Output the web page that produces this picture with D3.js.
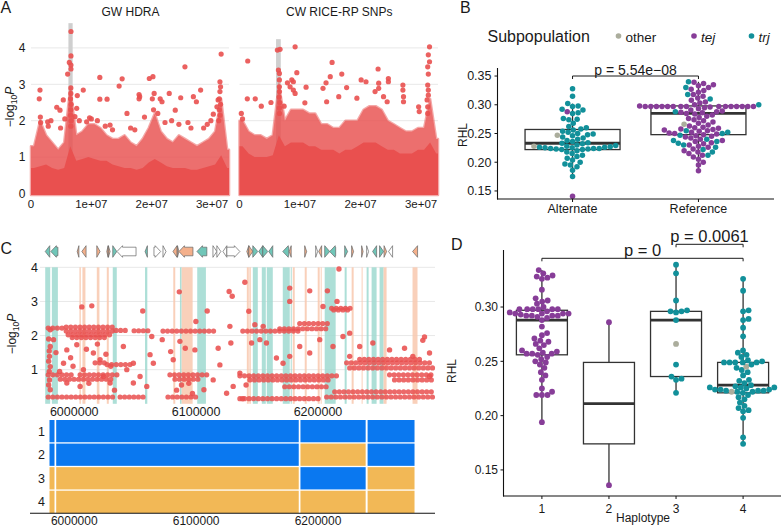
<!DOCTYPE html>
<html lang="en">
<head>
<meta charset="UTF-8">
<title>RHL association figure</title>
<script src="https://d3js.org/d3.v7.min.js"></script>
<style>
  body { margin: 0; background: #fff; }
  svg { display: block; font-family: "Liberation Sans", Arial, Helvetica, sans-serif; }
</style>
</head>
<body>
<svg id="fig" width="781" height="527" viewBox="0 0 781 527"></svg>
<script>
// ---------- data: panel A (Manhattan, 1 Mb bins) ----------
const binStartMb = [0,1,2,3,4,5,6,7,8,9,10,11,12,13,14,15,16,17,18,19,20,21,22,23,24,25,26,27,28,29,30,31,32];
const hdraCore = [0.7,0.75,0.8,0.7,0.65,0.7,1.3,0.9,0.95,1.0,0.95,0.9,0.9,0.8,0.75,0.7,0.7,0.65,0.7,0.85,0.95,0.85,0.75,0.7,0.7,0.7,0.65,0.65,0.7,0.75,0.8,1.05,0.7];
const hdraSemi = [1.3,2.0,1.6,1.4,1.2,1.4,2.9,1.6,1.7,1.9,1.9,1.8,1.6,1.5,1.5,1.6,1.4,1.3,1.5,1.8,2.2,1.7,1.5,1.4,1.6,1.5,1.4,1.3,1.4,1.5,1.7,2.6,1.2];
const rpCore = [1.3,1.1,1.0,1.0,1.0,1.05,1.6,1.3,1.4,1.4,1.4,1.3,1.3,1.2,1.2,1.2,1.1,1.2,1.2,1.3,1.4,1.4,1.4,1.3,1.2,1.2,1.1,1.1,1.1,1.2,1.2,1.4,1.1];
const rpSemi = [2.0,1.7,1.6,1.6,1.5,1.6,3.0,2.0,2.3,2.3,2.3,2.2,2.2,1.9,1.9,1.8,1.8,2.0,2.0,2.0,2.3,2.4,2.4,2.3,2.0,1.9,1.8,1.7,1.7,1.8,1.8,2.6,1.5];
const hdraPoints = [
  [6.62e6,4.45],[6.62e6,3.78],[6.35e6,3.60],[6.62e6,3.53],[6.07e6,3.28],[6.62e6,3.42],[1.49e6,2.84],[1.37e6,2.60],
  [7.67e6,2.69],[8.66e6,2.84],[1.14e7,3.19],[1.14e7,2.59],[1.26e7,2.59],[1.51e7,3.15],[1.46e7,2.95],[1.59e7,2.20],
  [5.35e6,2.57],[4.27e6,2.37],[4.80e6,2.29],[2.76e6,1.97],[2.86e6,1.85],[1.79e7,2.72],[1.80e7,2.66],[1.79e7,2.60],
  [1.96e7,3.16],[2.02e7,3.21],[2.04e7,2.75],[2.01e7,2.60],[2.14e7,2.60],[2.17e7,2.52],[2.29e7,2.75],[2.39e7,2.29],
  [2.48e7,2.63],[2.55e7,3.48],[2.69e7,2.66],[2.74e7,2.52],[2.81e7,2.84],[3.02e7,2.18],[3.15e7,3.83],[3.13e7,3.07],
  [3.14e7,2.93],[3.13e7,2.80],[3.10e7,2.57],[3.08e7,2.38],[7.57e6,2.34],[7.28e6,2.11],[9.22e6,1.97],[1.31e7,1.88],
  [3.3e6,2.0],[4.9e6,1.8],[1.0e7,2.05],[1.1e7,2.0],[1.23e7,1.85],[1.35e7,1.75],[1.65e7,1.8],[1.72e7,1.75],
  [1.88e7,2.1],[2.1e7,2.2],[2.22e7,1.95],[2.33e7,2.0],[2.45e7,1.9],[2.6e7,1.95],[2.65e7,1.8],[2.86e7,1.8],
  [2.92e7,1.9],[2.98e7,2.0],[5.6e6,2.05],[8.0e6,2.0],[9.7e6,2.08],
  [6.6e6,2.9],[6.6e6,2.75],[6.55e6,2.6],[6.65e6,2.45],[6.6e6,2.3],[6.55e6,2.15],[6.65e6,2.0],[6.6e6,1.85],
  [3.12e7,2.6],[3.14e7,2.45],[3.12e7,2.3],[3.13e7,2.15],[3.11e7,2.0],[1.55e6,2.1],[1.6e6,1.95],[2.03e7,2.3]
];
const rpPoints = [
  [1.36e6,3.64],[1.29e6,2.60],[6.26e6,3.94],[6.70e6,3.96],[6.43e6,3.39],[6.59e6,3.30],[6.59e6,3.12],[6.59e6,2.93],
  [9.19e6,4.03],[9.47e6,3.32],[8.64e6,3.12],[8.90e6,3.07],[7.92e6,3.04],[8.36e6,2.93],[8.90e6,2.84],[9.19e6,2.75],
  [1.10e7,2.92],[7.37e6,2.40],[1.08e7,2.49],[1.53e7,3.60],[1.38e7,2.89],[1.50e7,3.21],[1.43e7,3.04],[1.44e7,2.52],
  [1.69e7,3.28],[1.64e7,2.66],[1.77e7,2.91],[1.94e7,2.62],[2.01e7,3.12],[2.09e7,3.07],[2.24e7,2.80],[2.29e7,3.42],
  [2.30e7,3.03],[2.30e7,2.89],[2.38e7,2.66],[2.44e7,2.52],[2.46e7,3.16],[2.46e7,3.07],[2.70e7,2.98],[2.70e7,2.84],
  [2.71e7,2.66],[2.71e7,2.52],[2.96e7,2.38],[2.97e7,2.25],[3.14e7,4.03],[3.12e7,3.81],[3.14e7,3.62],[3.11e7,3.48],
  [3.12e7,3.28],[3.11e7,2.98],[3.12e7,2.84],[3.10e7,2.57],[3.11e7,2.38],[2.6e6,2.6],[3.6e6,2.4],[5.2e6,2.5],
  [6.6e6,2.8],[6.55e6,2.65],[6.65e6,2.5],[6.6e6,2.35],[6.6e6,2.2],[3.12e7,2.7],[3.11e7,2.2],[0.3e6,2.2],[0.5e6,2.05]
];
const hdraBar = [6.2e6, 6.9e6, 4.68];
const rpBar = [6.04e6, 6.82e6, 4.24];

// ---------- data: panel B ----------
const bCats = ["Alternate", "Reference"];
const altTrj = [0.328,0.315,0.302,0.298,0.297,0.292,0.291,0.286,0.285,0.276,0.275,0.274,0.268,0.262,0.260,0.258,0.256,0.254,0.252,0.250,0.249,0.248,0.246,0.244,0.242,0.240,0.238,0.236,0.234,0.233,0.232,0.230,0.229,0.228,0.227,0.226,0.226,0.225,0.225,0.224,0.224,0.224,0.223,0.223,0.222,0.222,0.220,0.218,0.215,0.212,0.210,0.207,0.204,0.200,0.197,0.195,0.192,0.186,0.175];
const altTej = [0.288, 0.141];
const altOther = [0.247, 0.228];
const refTej = [0.339,0.337,0.335,0.333,0.330,0.327,0.325,0.322,0.318,0.315,0.312,0.308,0.305,0.303,0.300,0.298,0.297,0.297,0.297,0.297,0.297,0.297,0.297,0.297,0.297,0.297,0.297,0.297,0.297,0.297,0.297,0.296,0.295,0.293,0.291,0.289,0.288,0.287,0.286,0.285,0.284,0.282,0.280,0.278,0.276,0.274,0.272,0.270,0.268,0.265,0.263,0.261,0.260,0.259,0.258,0.257,0.256,0.255,0.254,0.252,0.251,0.250,0.249,0.248,0.246,0.245,0.244,0.242,0.240,0.238,0.236,0.234,0.232,0.230,0.228,0.226,0.223,0.220,0.218,0.215,0.212,0.209,0.205,0.200,0.195,0.185];
const refTrj = [0.340,0.330,0.318,0.310,0.300,0.288,0.255,0.252,0.250,0.247,0.240,0.238,0.236,0.233,0.230,0.226,0.222,0.218,0.212];
const refOther = [0.266];
const bLo = [0.175, 0.185], bQ1 = [0.222, 0.248], bMed = [0.233, 0.285], bQ3 = [0.257, 0.298], bHi = [0.302, 0.340];
const bPText = "p = 5.54e\u221208";

// ---------- data: panel C ----------
const tealBands = [[5976170,5980260],[5981650,5986570],[6031610,6034890],[6058070,6059950],[6086730,6088120],[6100900,6108030],
  [6146520,6150610],[6153890,6157170],[6157990,6162900],[6171090,6176820],[6177640,6178460],[6205490,6214500],
  [6221870,6223510],[6239890,6241520],[6243980,6248080],[6250530,6253810]];
const salmonBands = [[6004260,6005410],[6006720,6009170],[6018510,6020640],[6026700,6028340],[6081250,6082880],[6088120,6097130],
  [6141610,6143240],[6143650,6144880],[6179280,6180920],[6189110,6190750],[6199750,6201390],[6202210,6203030],
  [6227600,6229240],[6235790,6236610],[6253810,6256270],[6277560,6281650]];
// [start, end, strand, class]
const genes = [
  [5976200,5979900,-1,"t"],[5980800,5986600,-1,"t"],[6002400,6003800,-1,"s"],[6006200,6009700,-1,"s"],[6018500,6021200,1,"s"],
  [6026700,6027800,-1,"s"],[6028000,6029400,1,"s"],[6031600,6034900,1,"t"],[6035100,6050700,-1,"w"],[6058100,6060000,-1,"t"],
  [6065400,6070900,1,"w"],[6072800,6075300,1,"w"],[6081000,6084300,-1,"s"],[6084700,6085900,1,"s"],[6085900,6097400,-1,"s"],
  [6100700,6108800,-1,"t"],[6113800,6117000,1,"w"],[6117000,6120300,1,"w"],[6122000,6125200,-1,"w"],[6125200,6135900,1,"w"],
  [6141600,6143200,-1,"s"],[6143200,6146500,1,"s"],[6146500,6150600,1,"t"],[6151400,6154700,-1,"t"],[6154700,6158800,1,"t"],
  [6159600,6162900,-1,"t"],[6171100,6176000,-1,"t"],[6176400,6178000,-1,"s"],[6189100,6190700,1,"s"],[6198100,6199700,1,"w"],
  [6200600,6203000,-1,"s"],[6205500,6209600,1,"t"],[6209600,6214500,-1,"t"],[6221900,6224300,1,"t"],[6227600,6229200,1,"s"],
  [6235800,6237000,1,"s"],[6239900,6241500,1,"w"],[6244800,6248100,-1,"t"],[6250500,6253800,1,"t"],[6254200,6256300,1,"s"],
  [6257900,6261200,-1,"w"],[6277600,6281700,-1,"s"]
];
// dense runs of SNPs sharing one -log10P: [start, end, value]
const cRuns = [
  [5978600,5993400,2.22],[5993400,6033500,2.25],[5993400,6033500,2.13],[5995000,6031000,2.02],[5998300,6027800,1.94],
  [6034300,6044100,2.15],[6049100,6062200,2.14],[6072800,6114600,2.13],[6026900,6045800,1.15],[6017100,6025300,1.2],
  [5978600,6000700,0.85],[6004800,6036000,0.85],[5988500,6031000,0.72],[6078500,6108800,0.85],[6082600,6103100,0.72],
  [5978600,6031900,0.2],[6037600,6058100,0.2],[6076900,6099800,0.2],[6138300,6185000,2.13],[6168600,6209600,2.2],
  [6185000,6209600,2.35],[6211200,6228400,2.8],[6212900,6226000,2.75],[6223500,6294000,1.2],[6226000,6294000,1.05],
  [6234200,6283300,1.3],[6135900,6217800,0.82],[6144100,6209600,0.7],[6258700,6294000,0.85],[6262800,6294000,0.7],
  [6207100,6294000,0.2],[6213700,6294000,0.35],[6135900,6201400,0.15],[6172700,6209600,0.5]
];
const cPoints = [
  [6086200,3.28],[6127100,3.29],[6129600,3.15],[6140000,3.56],[6217200,3.95],[6176800,3.39],[6176800,3.0],[6193200,3.31],
  [6207700,3.31],[6215600,3.0],[6006200,2.84],[6014400,2.87],[6056200,2.72],[6099800,2.41],[6109100,2.72],[6287400,1.96],
  [6286000,1.86],[6143200,2.71],[6127700,2.27],[6086700,1.83],[6091100,1.63],[6099000,1.58],[6118100,1.63],[6128500,1.78],
  [6119500,1.14],[6135900,0.9],[6130400,0.51],[6125000,0.31],[6114000,0.70],[6106400,0.41],[6062200,1.44],[6064900,1.19],
  [6072200,1.88],[6079100,1.53],[6081200,1.29],[6048500,1.19],[6054000,0.8],[6059500,0.51],[6063600,1.97],[6040300,1.68],
  [5980300,2.17],[5980300,1.68],[5979700,1.39],[5980300,1.09],[5979700,0.70],[5980300,0.41],[5983000,1.88],[5993900,1.58],
  [6002100,1.73],[6015700,1.49],[6021200,1.29],[5991200,1.19],[6007500,1.0],[6023900,0.8],[5993900,0.61],[6004800,0.51],
  [6029400,0.61],[6043100,1.0],[6048500,0.61],[6145500,1.78],[6148200,2.32],[6155000,2.27],[6152300,1.88],[6157700,1.78],
  [6165900,1.34],[6171300,1.19],[6176800,1.39],[6185000,1.68],[6193200,1.49],[6201400,1.88],[6212300,1.68],[6220500,1.97],
  [6226000,2.07],[6234200,1.68],[6226000,1.39],[6245000,1.78],[6258700,1.58],[6271000,1.63],[6277800,1.39],[6291500,1.49],
  [6291500,0.8],[6204100,2.85],[5985000,1.5],[5997000,1.35],[6010000,1.6],[6019000,1.75],[6026000,1.45],[5988000,0.95],
  [6012000,0.6],[6030000,1.1],[6033000,0.4],[5999000,1.1],[6088000,0.55],[6094000,0.6],[6097000,0.3],[6084000,0.4],
  [6138000,0.15],[6141000,0.55],[5979000,1.9],[5979500,1.55],[5979000,1.25],[5979500,0.95],[5979000,0.55]
];
const cTicks = [6000000, 6100000, 6200000];
const blockStart = [5979700, 5985200, 6185600, 6240700];
const blockEnd = [5983800, 6184200, 6239100, 6279200];
const haplotypes = [1, 2, 3, 4];
const hapAlleles = [[1,1,1,1],[1,1,0,1],[0,0,1,0],[0,0,0,0]];

// ---------- data: panel D ----------
const dCats = [1, 2, 3, 4];
const g1Tej = [0.334,0.331,0.329,0.328,0.327,0.326,0.316,0.308,0.306,0.305,0.303,0.300,0.298,0.298,0.298,0.298,0.298,0.298,0.296,0.295,0.294,0.294,0.294,0.294,0.293,0.292,0.292,0.292,0.292,0.291,0.290,0.288,0.282,0.276,0.274,0.271,0.269,0.268,0.266,0.265,0.262,0.260,0.259,0.258,0.257,0.257,0.257,0.256,0.254,0.252,0.250,0.249,0.247,0.244,0.240,0.237,0.233,0.225,0.222,0.219,0.219,0.219,0.194];
const g2Tej = [0.286, 0.136];
const g3Trj = [0.339,0.331,0.306,0.297,0.296,0.296,0.295,0.288,0.247,0.236,0.234,0.233,0.221];
const g3Other = [0.266];
const g4Trj = [0.326,0.315,0.297,0.296,0.289,0.288,0.281,0.273,0.260,0.258,0.256,0.254,0.251,0.250,0.249,0.249,0.249,0.249,0.249,0.247,0.244,0.242,0.240,0.237,0.233,0.232,0.230,0.228,0.227,0.226,0.226,0.226,0.225,0.224,0.224,0.224,0.223,0.223,0.223,0.222,0.222,0.221,0.219,0.217,0.215,0.212,0.209,0.207,0.205,0.204,0.198,0.180,0.174];
const g4Other = [0.245, 0.222];
const dLo = [0.194, 0.136, 0.221, 0.174], dQ1 = [0.256, 0.174, 0.236, 0.221], dMed = [0.288, 0.211, 0.288, 0.228],
      dQ3 = [0.297, 0.249, 0.296, 0.249], dHi = [0.334, 0.286, 0.339, 0.326];

// ---------- colours ----------
const RED = "#E9504F", TEAL = "#12909A", PURPLE = "#873D98", OTHER = "#ABAD9C";
const BLUE = "#0A78F0", ORANGE = "#F2B856";
const geneFill = { t: "#70C6B8", s: "#F4B08B", w: "#FFFFFF" };

const svg = d3.select("#fig");

function txt(g, x, y, s, size, opts = {}) {
  return g.append("text").attr("x", x).attr("y", y).attr("font-size", size)
    .attr("text-anchor", opts.anchor || "start").attr("fill", opts.fill || "#1a1a1a")
    .attr("font-style", opts.italic ? "italic" : null).text(s);
}
function logTitle(g, x, y) {
  const t = g.append("text").attr("transform", `translate(${x},${y}) rotate(-90)`)
    .attr("text-anchor", "middle").attr("font-size", 12).attr("fill", "#1a1a1a");
  t.append("tspan").text("\u2212log");
  t.append("tspan").attr("font-size", 8.5).attr("dy", 3).text("10");
  t.append("tspan").attr("font-style", "italic").attr("dy", -3).text("P");
}

// ---------- panel letters ----------
txt(svg, 0.5, 13.3, "A", 16);
txt(svg, 460, 13.3, "B", 16);
txt(svg, 0.5, 254, "C", 16);
txt(svg, 451, 250, "D", 16);

// ---------- panel A ----------
const yA = d3.scaleLinear().domain([0, 4]).range([193.5, 47.9]);
const xAL = d3.scaleLinear().domain([0, 3.28e7]).range([31, 229]);
const xAR = d3.scaleLinear().domain([0, 3.28e7]).range([239.5, 438]);

function manhattan(x, core, semi, pts, bar, title) {
  const g = svg.append("g");
  const [x0, x1] = x.range();
  g.selectAll(".grid").data([0, 1, 2, 3, 4]).enter().append("line")
    .attr("x1", x0).attr("x2", x1).attr("y1", d => yA(d)).attr("y2", d => yA(d))
    .attr("stroke", "#e8e8e8").attr("stroke-width", 1);
  g.append("rect").attr("x", x(bar[0])).attr("width", x(bar[1]) - x(bar[0]))
    .attr("y", yA(bar[2])).attr("height", yA(0) - yA(bar[2])).attr("fill", "#cfcfcf");
  const env = vals => [{ x: 0, v: vals[0] }]
    .concat(binStartMb.map((b, i) => ({ x: (b + 0.5) * 1e6, v: vals[i] })))
    .concat([{ x: 3.28e7, v: vals[vals.length - 1] }]);
  const area = d3.area().x(d => x(d.x)).y0(yA(0) + 1.5).y1(d => yA(d.v));
  g.append("path").attr("d", area(env(semi))).attr("fill", RED).attr("opacity", 0.82)
    .attr("stroke", RED).attr("stroke-width", 2.5).attr("stroke-linejoin", "round").attr("stroke-opacity", 0.6);
  g.append("path").attr("d", area(env(core))).attr("fill", RED);
  g.selectAll(".pt").data(pts).enter().append("circle")
    .attr("cx", d => x(d[0])).attr("cy", d => yA(d[1])).attr("r", 2.6)
    .attr("fill", RED).attr("opacity", 0.9);
  txt(g, (x0 + x1) / 2 + 0.5, 16, title, 12, { anchor: "middle" });
  [[0, "0"], [1e7, "1e+07"], [2e7, "2e+07"], [3e7, "3e+07"]].forEach(([v, s]) =>
    txt(g, x(v), 208, s, 11.5, { anchor: "middle" }));
}
manhattan(xAL, hdraCore, hdraSemi, hdraPoints, hdraBar, "GW HDRA");
manhattan(xAR, rpCore, rpSemi, rpPoints, rpBar, "CW RICE-RP SNPs");
[0, 1, 2, 3, 4].forEach(v => txt(svg, 25.5, yA(v) + 4.3, String(v), 12, { anchor: "end" }));
logTitle(svg, 13.5, 107);

// ---------- box + swarm helpers ----------
function swarm(pts, y, d) {
  const placed = [];
  pts.slice().sort((a, b) => a.v - b.v).forEach(p => {
    const py = y(p.v);
    const near = placed.filter(q => Math.abs(q.py - py) < d);
    const cands = [0];
    near.forEach(q => {
      const dx = Math.sqrt(d * d - (q.py - py) ** 2);
      cands.push(q.dx + dx, q.dx - dx);
    });
    cands.sort((a, b) => Math.abs(a) - Math.abs(b));
    p.dx = cands.find(c => near.every(q => (q.dx - c) ** 2 + (q.py - py) ** 2 >= d * d - 0.01));
    p.py = py;
    placed.push(p);
  });
  return placed;
}
function boxes(g, x, y, cats, lo, q1, med, q3, hi, w) {
  cats.forEach((c, i) => {
    const cx = x(c);
    g.append("line").attr("x1", cx).attr("x2", cx).attr("y1", y(lo[i])).attr("y2", y(hi[i]))
      .attr("stroke", "#333").attr("stroke-width", 1.3);
    g.append("rect").attr("x", cx - w / 2).attr("width", w).attr("y", y(q3[i])).attr("height", y(q1[i]) - y(q3[i]))
      .attr("fill", "#fff").attr("stroke", "#333").attr("stroke-width", 1.3);
    g.append("line").attr("x1", cx - w / 2).attr("x2", cx + w / 2).attr("y1", y(med[i])).attr("y2", y(med[i]))
      .attr("stroke", "#333").attr("stroke-width", 2.8);
  });
}
function dots(g, x, y, cat, groups, d, r) {
  const pts = [];
  groups.forEach(([vals, col]) => vals.forEach(v => pts.push({ v, col })));
  g.selectAll(null).data(swarm(pts, y, d)).enter().append("circle")
    .attr("cx", p => x(cat) + p.dx).attr("cy", p => p.py).attr("r", r).attr("fill", p => p.col);
}
function bracket(g, xa, xb, yy, label, size, ly) {
  g.append("path").attr("d", `M${xa},${yy + 3}V${yy}H${xb}V${yy + 3}`)
    .attr("fill", "none").attr("stroke", "#1a1a1a").attr("stroke-width", 1);
  txt(g, (xa + xb) / 2, ly, label, size, { anchor: "middle" });
}

// ---------- panel B ----------
const gB = svg.append("g");
const yB = d3.scaleLinear().domain([0.136, 0.364]).range([199, 68]);
const xB = d3.scalePoint().domain(bCats).range([497, 774]).padding(0.6);
boxes(gB, xB, yB, bCats, bLo, bQ1, bMed, bQ3, bHi, 95);
dots(gB, xB, yB, "Alternate", [[altTrj, TEAL], [altTej, PURPLE], [altOther, OTHER]], 5.6, 2.75);
dots(gB, xB, yB, "Reference", [[refTej, PURPLE], [refTrj, TEAL], [refOther, OTHER]], 5.6, 2.75);
gB.append("line").attr("x1", 497.5).attr("x2", 497.5).attr("y1", 68).attr("y2", 199.5).attr("stroke", "#111").attr("stroke-width", 1.1);
gB.append("line").attr("x1", 497).attr("x2", 774).attr("y1", 199).attr("y2", 199).attr("stroke", "#111").attr("stroke-width", 1.1);
[0.15, 0.20, 0.25, 0.30, 0.35].forEach(v => {
  gB.append("line").attr("x1", 494.5).attr("x2", 497.5).attr("y1", yB(v)).attr("y2", yB(v)).attr("stroke", "#111");
  txt(gB, 491.5, yB(v) + 4.4, v.toFixed(2), 12.5, { anchor: "end" });
});
bCats.forEach(c => {
  gB.append("line").attr("x1", xB(c)).attr("x2", xB(c)).attr("y1", 199).attr("y2", 202).attr("stroke", "#111");
  txt(gB, xB(c), 213, c, 12.5, { anchor: "middle" });
});
gB.append("text").attr("transform", "translate(467,135) rotate(-90)").attr("text-anchor", "middle")
  .attr("font-size", 12).attr("fill", "#1a1a1a").text("RHL");
bracket(gB, xB("Alternate"), xB("Reference"), 76, bPText, 14, 74.5);
// legend
txt(gB, 487.5, 41.5, "Subpopulation", 16);
[["other", OTHER, 618.5, false], ["tej", PURPLE, 694, true], ["trj", TEAL, 751.5, true]].forEach(([s, col, lx, it]) => {
  gB.append("circle").attr("cx", lx).attr("cy", 36).attr("r", 2.8).attr("fill", col);
  txt(gB, lx + 7, 41.5, s, 13.5, { italic: it });
});

// ---------- panel C ----------
const gC = svg.append("g");
const xC = d3.scaleLinear().domain([5976000, 6296000]).range([45, 435]);
const yC = d3.scaleLinear().domain([0, 4]).range([403.8, 267.3]);
gC.selectAll(".cg").data([1, 2, 3, 4]).enter().append("line")
  .attr("x1", 40).attr("x2", 435).attr("y1", d => yC(d)).attr("y2", d => yC(d))
  .attr("stroke", "#e8e8e8").attr("stroke-width", 1);
[[tealBands, "#9FD9D0"], [salmonBands, "#F8C8AE"]].forEach(([bands, col]) => {
  gC.selectAll(null).data(bands).enter().append("rect")
    .attr("x", d => xC(d[0])).attr("width", d => Math.max(0.8, xC(d[1]) - xC(d[0])))
    .attr("y", yC(4)).attr("height", yC(0) - yC(4)).attr("fill", col).attr("opacity", 0.85);
});
gC.selectAll(null).data(cRuns).enter().append("line")
  .attr("x1", d => xC(d[0])).attr("x2", d => xC(d[1])).attr("y1", d => yC(d[2])).attr("y2", d => yC(d[2]))
  .attr("stroke", RED).attr("stroke-width", 5.2).attr("stroke-linecap", "round")
  .attr("stroke-dasharray", "0 4.6").attr("opacity", 0.85);
gC.selectAll(null).data(cPoints).enter().append("circle")
  .attr("cx", d => xC(d[0])).attr("cy", d => yC(d[1])).attr("r", 2.7).attr("fill", RED).attr("opacity", 0.88);
[1, 2, 3, 4].forEach(v => txt(gC, 38, yC(v) + 4.4, String(v), 12.5, { anchor: "end" }));
logTitle(gC, 16, 334);
// genes
const gy = 251.5;
function geneShape(d) {
  const a = xC(d[0]), b = xC(d[1]);
  const len = b - a, head = Math.min(5.5, len), bh = 4.3, hh = 5.8;
  let p;
  if (len <= head + 0.01) p = [[0, -hh], [len, 0], [0, hh]];
  else p = [[0, -bh], [len - head, -bh], [len - head, -hh], [len, 0], [len - head, hh], [len - head, bh], [0, bh]];
  if (d[2] < 0) p = p.map(([u, v]) => [len - u, v]);
  return "M" + p.map(([u, v]) => `${a + u},${gy + v}`).join("L") + "Z";
}
gC.selectAll(null).data(genes).enter().append("path").attr("d", geneShape)
  .attr("fill", d => geneFill[d[3]]).attr("stroke", "#666").attr("stroke-width", 0.7);
cTicks.forEach(t => txt(gC, xC(t), 416, String(t), 12.5, { anchor: "middle" }));
// haplotype blocks
const yH = d3.scaleBand().domain(haplotypes).range([420, 513]).paddingInner(0.055);
haplotypes.forEach((h, i) => {
  blockStart.forEach((s, j) => {
    gC.append("rect").attr("x", xC(s)).attr("width", xC(blockEnd[j]) - xC(s))
      .attr("y", yH(h)).attr("height", yH.bandwidth())
      .attr("fill", hapAlleles[i][j] ? BLUE : ORANGE);
  });
  txt(gC, 45, yH(h) + yH.bandwidth() / 2 + 4.4, String(h), 12.5, { anchor: "end" });
});
gC.append("line").attr("x1", 30).attr("x2", 435).attr("y1", 513.3).attr("y2", 513.3).attr("stroke", "#111").attr("stroke-width", 1.1);
cTicks.forEach(t => txt(gC, xC(t), 525, String(t), 12, { anchor: "middle" }));

// ---------- panel D ----------
const gD = svg.append("g");
const yD = d3.scaleLinear().domain([0.126, 0.3525]).range([496, 250]);
const xD = d3.scalePoint().domain(dCats).range([503, 782]).padding(0.58);
boxes(gD, xD, yD, dCats, dLo, dQ1, dMed, dQ3, dHi, 51);
dots(gD, xD, yD, 1, [[g1Tej, PURPLE]], 5.6, 2.9);
dots(gD, xD, yD, 2, [[g2Tej, PURPLE]], 5.6, 2.9);
dots(gD, xD, yD, 3, [[g3Trj, TEAL], [g3Other, OTHER]], 5.6, 2.9);
dots(gD, xD, yD, 4, [[g4Trj, TEAL], [g4Other, OTHER]], 5.6, 2.9);
gD.append("line").attr("x1", 503.5).attr("x2", 503.5).attr("y1", 250).attr("y2", 496.5).attr("stroke", "#111").attr("stroke-width", 1.1);
gD.append("line").attr("x1", 503).attr("x2", 781).attr("y1", 496).attr("y2", 496).attr("stroke", "#111").attr("stroke-width", 1.1);
[0.15, 0.20, 0.25, 0.30].forEach(v => {
  gD.append("line").attr("x1", 500.5).attr("x2", 503.5).attr("y1", yD(v)).attr("y2", yD(v)).attr("stroke", "#111");
  txt(gD, 498, yD(v) + 4.3, v.toFixed(2), 12, { anchor: "end" });
});
dCats.forEach(c => {
  gD.append("line").attr("x1", xD(c)).attr("x2", xD(c)).attr("y1", 496).attr("y2", 499).attr("stroke", "#111");
  txt(gD, xD(c), 512.5, String(c), 12, { anchor: "middle" });
});
txt(gD, 643, 522, "Haplotype", 12, { anchor: "middle" });
gD.append("text").attr("transform", "translate(455.5,371) rotate(-90)").attr("text-anchor", "middle")
  .attr("font-size", 12).attr("fill", "#1a1a1a").text("RHL");
bracket(gD, xD(1), xD(4), 258.3, "p = 0", 16.5, 255.5);
bracket(gD, xD(3), xD(4), 244.3, "p = 0.0061", 16.5, 242);
</script>
</body>
</html>
